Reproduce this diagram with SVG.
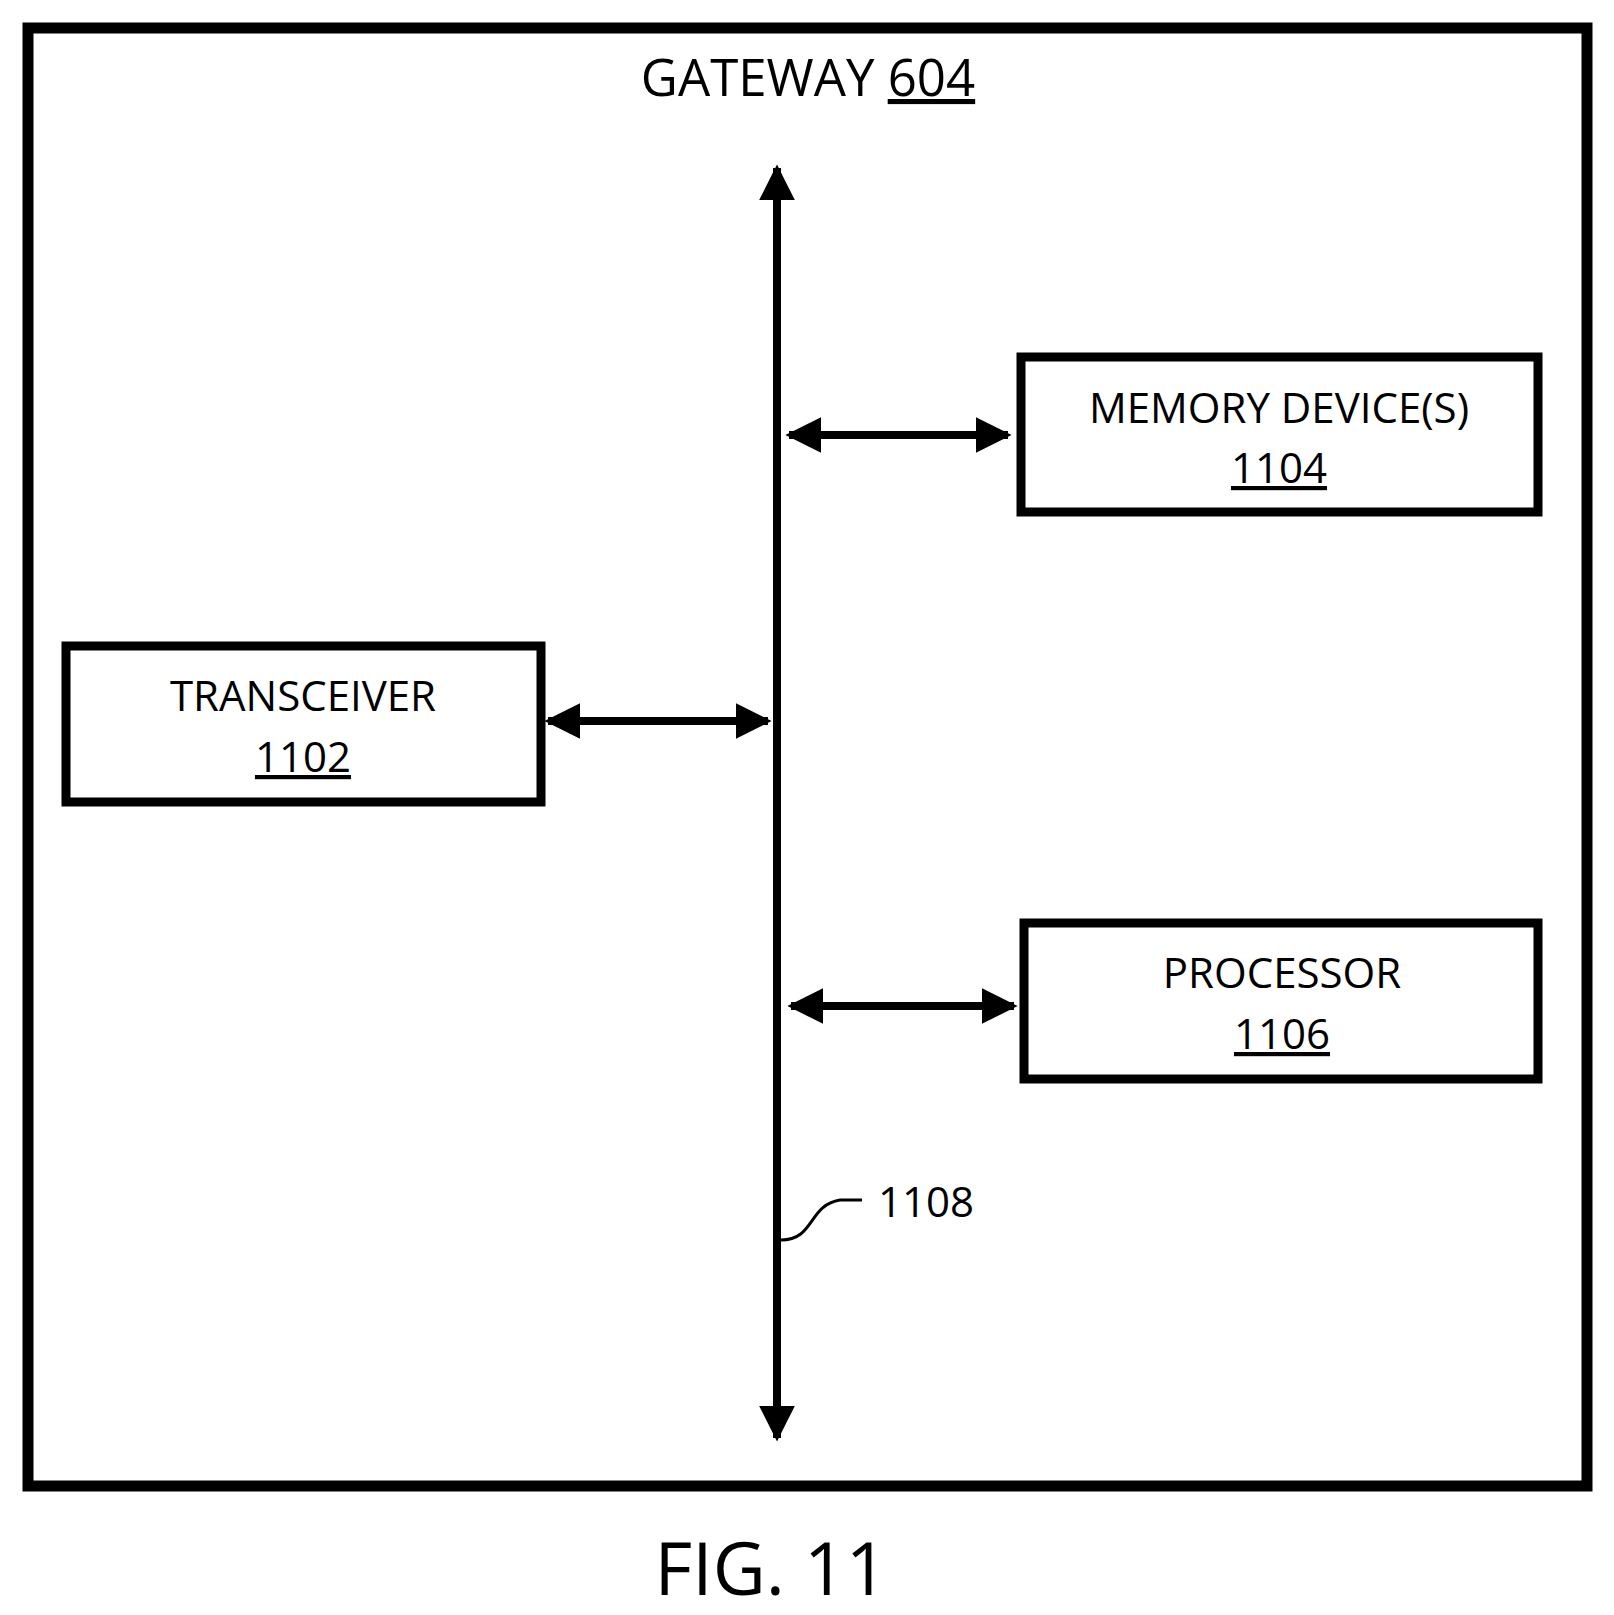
<svg xmlns="http://www.w3.org/2000/svg" width="1614" height="1615" viewBox="0 0 1614 1615">
<style>
text{font-family:"Open Sans","Liberation Sans",sans-serif;fill:#000;text-anchor:middle}
.t{font-size:42px}
.box{fill:#fff;stroke:#000;stroke-width:9}
.ln{stroke:#000;stroke-width:8;fill:none}
</style>
<defs>
<marker id="a" viewBox="0 0 10 10" refX="9" refY="5" markerWidth="4.5" markerHeight="4.5" orient="auto-start-reverse" markerUnits="strokeWidth"><path d="M0,0L10,5L0,10z"/></marker>
</defs>
<rect x="28" y="28" width="1559" height="1458" fill="#fff" stroke="#000" stroke-width="11"/>
<text x="808" y="96" font-size="51">GATEWAY <tspan text-decoration="underline">604</tspan></text>
<g id="memory"><rect class="box" x="1021" y="357" width="517" height="155"/>
<text class="t" x="1279" y="423">MEMORY DEVICE(S)</text><text class="t" x="1279" y="483" text-decoration="underline">1104</text></g>
<g id="transceiver"><rect class="box" x="66" y="646" width="475" height="156"/>
<text class="t" x="303" y="711">TRANSCEIVER</text><text class="t" x="303" y="772" text-decoration="underline">1102</text></g>
<g id="processor"><rect class="box" x="1024" y="923" width="514" height="156"/>
<text class="t" x="1282" y="988">PROCESSOR</text><text class="t" x="1282" y="1049" text-decoration="underline">1106</text></g>
<g id="connectors">
<line class="ln" x1="777" y1="168" x2="777" y2="1438" marker-start="url(#a)" marker-end="url(#a)"/>
<line class="ln" x1="789" y1="435" x2="1008" y2="435" marker-start="url(#a)" marker-end="url(#a)"/>
<line class="ln" x1="548" y1="721" x2="768" y2="721" marker-start="url(#a)" marker-end="url(#a)"/>
<line class="ln" x1="791" y1="1006" x2="1014" y2="1006" marker-start="url(#a)" marker-end="url(#a)"/>
<path d="M781,1240 C815,1240 808,1205 840,1200 L862,1200" fill="none" stroke="#000" stroke-width="3"/>
</g>
<text class="t" x="878" y="1217" style="text-anchor:start">1108</text>
<text x="771" y="1595" font-size="73">FIG. 11</text>
</svg>
